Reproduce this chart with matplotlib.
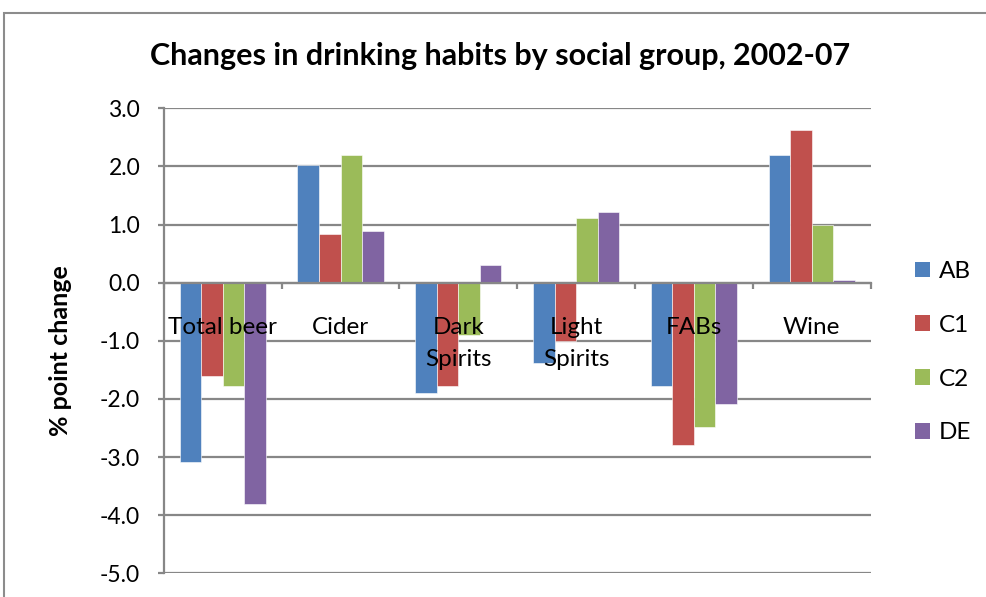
import matplotlib.pyplot as plt
import numpy as np
from matplotlib.patches import Rectangle, Patch
from matplotlib.ticker import FormatStrFormatter

plt.rcParams['font.family'] = ['Lato', 'DejaVu Sans']
plt.rcParams['axes.unicode_minus'] = False

categories = ["Total beer", "Cider", "Dark\nSpirits", "Light\nSpirits", "FABs", "Wine"]
groups = ["AB", "C1", "C2", "DE"]
ab = [-3.08, 2.02, -1.89, -1.39, -1.78, 2.20]
c1 = [-1.61, 0.83, -1.78, -1.00, -2.80, 2.63]
c2 = [-1.78, 2.20, -0.90, 1.11, -2.49, 1.00]
de = [-3.80, 0.89, 0.30, 1.21, -2.09, 0.05]
colors = ["#4F81BD", "#C0504D", "#9BBB59", "#8064A2"]
grid_col = "#878787"

fig = plt.figure(figsize=(9.87, 5.97), dpi=100)
ax = fig.add_axes([0.166, 0.0397, 0.716, 0.779])

# outer chart frame, only top and left edges fall inside the image
fig.patches.append(Rectangle((4 / 987, -0.1), 1.2, 1 - 13 / 597 + 0.1,
                             transform=fig.transFigure, fill=False,
                             edgecolor="#8c8c8c", linewidth=1.5))

x = np.arange(len(categories))
w = 0.183
for i, (vals, col) in enumerate(zip([ab, c1, c2, de], colors)):
    ax.bar(x + (i - 1.5) * w, vals, width=w, color=col,
           edgecolor="white", linewidth=0.4, zorder=3, label=groups[i])

ax.set_xlim(-0.5, 5.5)
ax.set_ylim(-5.0, 3.0)
ax.set_yticks(np.arange(-5.0, 3.01, 1.0))
ax.yaxis.set_major_formatter(FormatStrFormatter('%.1f'))
ax.grid(axis='y', color=grid_col, linewidth=1.6, zorder=0)
ax.set_axisbelow(True)

for s in ['top', 'right']:
    ax.spines[s].set_visible(False)
ax.spines['left'].set_color(grid_col)
ax.spines['left'].set_linewidth(1.6)
ax.spines['bottom'].set_position(('data', 0))
ax.spines['bottom'].set_color(grid_col)
ax.spines['bottom'].set_linewidth(1.6)
ax.spines['bottom'].set_zorder(4)

ax.set_xticks(np.arange(-0.5, 5.6, 1.0))
ax.set_xticklabels([])
ax.tick_params(axis='x', direction='out', length=4, width=1.6, color=grid_col)
ax.tick_params(axis='y', direction='out', length=4, width=1.6, color=grid_col,
               labelsize=16.5, pad=13)

for xi, name in zip(x, categories):
    ax.annotate(name, (xi, 0), xytext=(0, -25), textcoords='offset points',
                ha='center', va='top', fontsize=17.5, linespacing=1.65, zorder=5)

ax.set_ylabel("% point change", fontsize=18, fontweight='bold')
ax.yaxis.set_label_coords(-0.130, 0.478)

fig.text(0.507, 0.907, "Changes in drinking habits by social group, 2002-07",
         ha='center', va='center', fontsize=22, fontweight='bold')

handles = [Patch(facecolor=c) for c in colors]
fig.legend(handles, groups, loc='center left', bbox_to_anchor=(0.927, 0.41),
           frameon=False, fontsize=17.5, handlelength=0.62, handleheight=0.62,
           labelspacing=1.35, handletextpad=0.37, borderpad=0, borderaxespad=0)

fig.savefig("out.png", dpi=100)
